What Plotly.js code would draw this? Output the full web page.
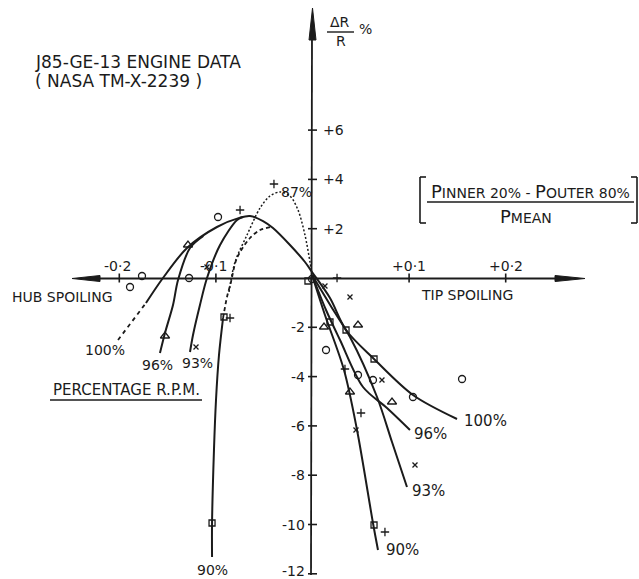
<!DOCTYPE html>
<html><head><meta charset="utf-8">
<script src="https://cdn.plot.ly/plotly-3.0.1.min.js"></script>
<style>html,body{margin:0;padding:0;background:#fff}</style>
</head><body><div id="chart" style="width:639px;height:579px"></div>
<script>
// ---------- data ----------
const xTicks = [-0.2, -0.1, 0.1, 0.2];
const xTickLabels = ['-0·2', '-0·1', '+0·1', '+0·2'];
const yTicks = [6, 4, 2, -2, -4, -6, -8, -10, -12];
const yTickLabels = ['+6', '+4', '+2', '-2', '-4', '-6', '-8', '-10', '-12'];

// 100 % rpm curve (dashed extrapolation + solid)
const rpm100DashX = [-0.2013, -0.1724];
const rpm100DashY = [-2.515, -1.014];
const rpm100X = [-0.1724, -0.1548, -0.1299, -0.0989, -0.0750, -0.0647, -0.0512, -0.0409, -0.0233, -0.0078, -0.0005, 0.0181, 0.0347, 0.0637, 0.1040, 0.1496];
const rpm100Y = [-1.014, 0, 1.217, 2.069, 2.45, 2.515, 2.312, 2.028, 1.339, 0.649, 0.243, -0.811, -2.110, -3.286, -4.746, -5.720];
// 96 % rpm (hub branch, null, tip branch)
const rpm96X = [-0.1579, -0.1527, -0.1444, -0.1392, -0.1268, -0.1130, null, -0.0005, 0.0140, 0.0285, 0.0523, 0.0771, 0.1009];
const rpm96Y = [-3.043, -2.231, -1.095, -0.081, 1.217, 1.704, null, 0.122, -1.298, -2.515, -4.422, -5.274, -6.166];
// 93 % rpm
const rpm93X = [-0.1268, -0.1237, -0.1165, -0.1092, -0.0957, -0.0781, -0.0719, null, -0.0005, 0.0202, 0.0388, 0.0668, 0.0823, 0.0978];
const rpm93Y = [-3.002, -2.312, -1.095, 0, 1.339, 2.353, 2.475, null, 0.122, -1.217, -2.394, -4.828, -6.653, -8.479];
// 90 % rpm (solid hub branch, dashed link, solid tip branch)
const rpm90HubX = [-0.1040, -0.1040, -0.1020, -0.0999, -0.0968, -0.0926];
const rpm90HubY = [-11.318, -9.939, -6.978, -4.949, -3.124, -1.623];
const rpm90DashX = [-0.0926, -0.0885, -0.0844, -0.0782, -0.0647, -0.0543, -0.0430];
const rpm90DashY = [-1.623, -0.771, -0.162, 0.811, 1.623, 1.947, 2.069];
const rpm90TipX = [-0.0005, 0.0129, 0.0326, 0.0461, 0.0626, 0.0678];
const rpm90TipY = [0.122, -1.501, -3.732, -6.166, -9.939, -11.034];
// 87 % rpm (dotted)
const rpm87X = [-0.0864, -0.0802, -0.0678, -0.0543, -0.0440, -0.0336, -0.0233, -0.0150, -0.0078, -0.0026, -0.0005];
const rpm87Y = [-0.568, 0.649, 1.744, 2.840, 3.327, 3.489, 3.327, 2.759, 1.744, 0.649, 0.122];

// measured points
const circleX = [-0.0978, -0.1765, -0.1889, -0.1278, -0.0005, 0.0140, 0.0471, 0.0626, 0.1040, 0.1548];
const circleY = [2.475, 0.081, -0.365, 0, -0.041, -2.921, -3.935, -4.138, -4.828, -4.097];
const triX = [-0.1289, -0.1527, 0.0119, 0.0471, 0.0388, 0.0823];
const triY = [1.339, -2.353, -1.988, -1.907, -4.625, -5.030];
const crossX = [-0.1092, -0.1206, 0.0388, 0.0719, 0.0450, 0.1061, 0.0129];
const crossY = [0.446, -2.799, -0.771, -4.138, -6.166, -7.586, -0.325];
const squareX = [-0.0916, -0.1040, -0.0047, 0.0181, 0.0347, 0.0637, 0.0637];
const squareY = [-1.582, -9.939, -0.122, -1.785, -2.110, -3.286, -10.020];
const plusX = [-0.0399, -0.0750, -0.0854, 0.0254, 0.0336, 0.0502, 0.0750];
const plusY = [3.813, 2.759, -1.623, 0, -3.692, -5.477, -10.304];

// ---------- layout helpers ----------
const W = 639, H = 579;
const X0 = 312.5, XS = 966, Y0 = 278, YS = 24.65;
const px2x = p => (p - X0) / XS;
const py2y = p => (Y0 - p) / YS;
const INK = '#1b1b1b';
const FONT = 'DejaVu Sans, Arial, sans-serif';

const traces = [];
function line(x, y, dash, width) {
  traces.push({x, y, type: 'scatter', mode: 'lines', connectgaps: false, hoverinfo: 'skip',
    line: {color: INK, width: width || 2, shape: 'spline', smoothing: 0.9, dash: dash || 'solid'}});
}
line(rpm100DashX, rpm100DashY, '4px,4px', 1.8);
line(rpm100X, rpm100Y);
line(rpm96X, rpm96Y);
line(rpm93X, rpm93Y);
line(rpm90HubX, rpm90HubY);
line(rpm90DashX, rpm90DashY, '4px,3px', 1.8);
line(rpm90TipX, rpm90TipY);
line(rpm87X, rpm87Y, '2px,2px', 1.5);

function pts(x, y, symbol, size) {
  traces.push({x, y, type: 'scatter', mode: 'markers', hoverinfo: 'skip',
    marker: {symbol, size, color: INK, line: {color: INK, width: 1.3}}});
}
pts(circleX, circleY, 'circle-open', 7);
pts(triX, triY, 'triangle-up-open', 8);
pts(crossX, crossY, 'x-thin-open', 5);
pts(squareX, squareY, 'square-open', 6);
pts(plusX, plusY, 'cross-thin-open', 6);

const shapes = [];
// axis tick marks from the tick arrays (data position, pixel length)
xTicks.forEach(v => shapes.push({type: 'line', xref: 'x', yref: 'y', x0: v, x1: v,
  ysizemode: 'pixel', yanchor: 0, y0: -4.5, y1: 4.5, line: {color: INK, width: 1.6}}));
yTicks.forEach(v => shapes.push({type: 'line', xref: 'x', yref: 'y', y0: v, y1: v,
  xsizemode: 'pixel', xanchor: 0, x0: -4.5, x1: 4.5, line: {color: INK, width: 1.6}}));

const annotations = [];
function ann(text, px, py, size, opts) {
  annotations.push(Object.assign({text, x: px2x(px), y: py2y(py), xref: 'x', yref: 'y',
    showarrow: false, font: {family: FONT, size: size || 14, color: INK}}, opts || {}));
}
xTicks.forEach((v, i) => annotations.push({text: xTickLabels[i], x: v, y: 0, xref: 'x', yref: 'y',
  showarrow: false, yanchor: 'middle', yshift: 12, xshift: (v < 0 ? -2 : 0), font: {family: FONT, size: 14, color: INK}}));
yTicks.forEach((v, i) => annotations.push({text: yTickLabels[i], x: 0, y: v, xref: 'x', yref: 'y',
  showarrow: false, xanchor: v > 0 ? 'left' : 'right', xshift: v > 0 ? 8 : -6, yanchor: 'middle',
  yshift: v === -12 ? 3 : 0, font: {family: FONT, size: 14, color: INK}}));

ann('J85-GE-13 ENGINE DATA', 33, 62, 17, {xanchor: 'left'});
ann('( NASA TM-X-2239 )', 33, 81, 17, {xanchor: 'left'});
ann('ΔR', 340, 22, 14);
ann('R', 341, 41, 14);
ann('%', 365, 29, 14);
ann('HUB SPOILING', 62, 297, 14);
ann('TIP SPOILING', 467, 295, 14);
ann('<span style="font-size:18px">P</span>INNER 20% - <span style="font-size:18px">P</span>OUTER 80%', 530, 191, 14);
ann('<span style="font-size:18px">P</span>MEAN', 526, 216, 14);
ann('PERCENTAGE R.P.M.', 126, 390, 15);
ann('100%', 105, 350, 14);
ann('96%', 157, 365, 14);
ann('93%', 197, 363, 14);
ann('90%', 212, 570, 14);
ann('87%', 296, 192, 14);
ann('100%', 485, 421, 15);
ann('96%', 430, 434, 15);
ann('93%', 428, 491, 15);
ann('90%', 402, 550, 15);

// axes, arrowheads, brackets, underlines (pixel geometry)
const P = (px, py) => `${px / W},${1 - py / H}`;
function seg(x1, y1, x2, y2, w) {
  shapes.push({type: 'line', xref: 'paper', yref: 'paper', x0: x1 / W, y0: 1 - y1 / H, x1: x2 / W, y1: 1 - y2 / H,
    line: {color: INK, width: w || 1.8}});
}
function tri(a, b, c) {
  shapes.push({type: 'path', xref: 'paper', yref: 'paper', path: `M${P(...a)} L${P(...b)} L${P(...c)} Z`,
    fillcolor: INK, line: {color: INK, width: 1}});
}
seg(312, 30, 311, 575);          // y axis
seg(90, 278.5, 565, 278.5);      // x axis
tri([312.5, 8], [309, 40], [316, 40]);
tri([72, 278.5], [100, 275.5], [100, 281.5]);
tri([585, 278.5], [555, 275.5], [555, 281.5]);
seg(327, 32, 354, 32, 1.4);      // ΔR/R fraction bar
seg(427, 202, 634, 202, 1.4);    // formula fraction bar
seg(420, 177, 420, 223, 1.6); seg(420, 177, 426, 177, 1.6); seg(420, 223, 426, 223, 1.6);
seg(637, 177, 637, 223, 1.6); seg(637, 177, 631, 177, 1.6); seg(637, 223, 631, 223, 1.6);
seg(50, 400, 202, 400, 1.3);     // PERCENTAGE R.P.M. underline

const layout = {
  width: W, height: H, margin: {l: 0, r: 0, t: 0, b: 0},
  paper_bgcolor: '#ffffff', plot_bgcolor: '#ffffff', showlegend: false,
  xaxis: {range: [px2x(0), px2x(W)], visible: false, fixedrange: true},
  yaxis: {range: [py2y(H), py2y(0)], visible: false, fixedrange: true},
  annotations, shapes
};
Plotly.newPlot('chart', traces, layout, {displayModeBar: false, staticPlot: true});
</script></body></html>
